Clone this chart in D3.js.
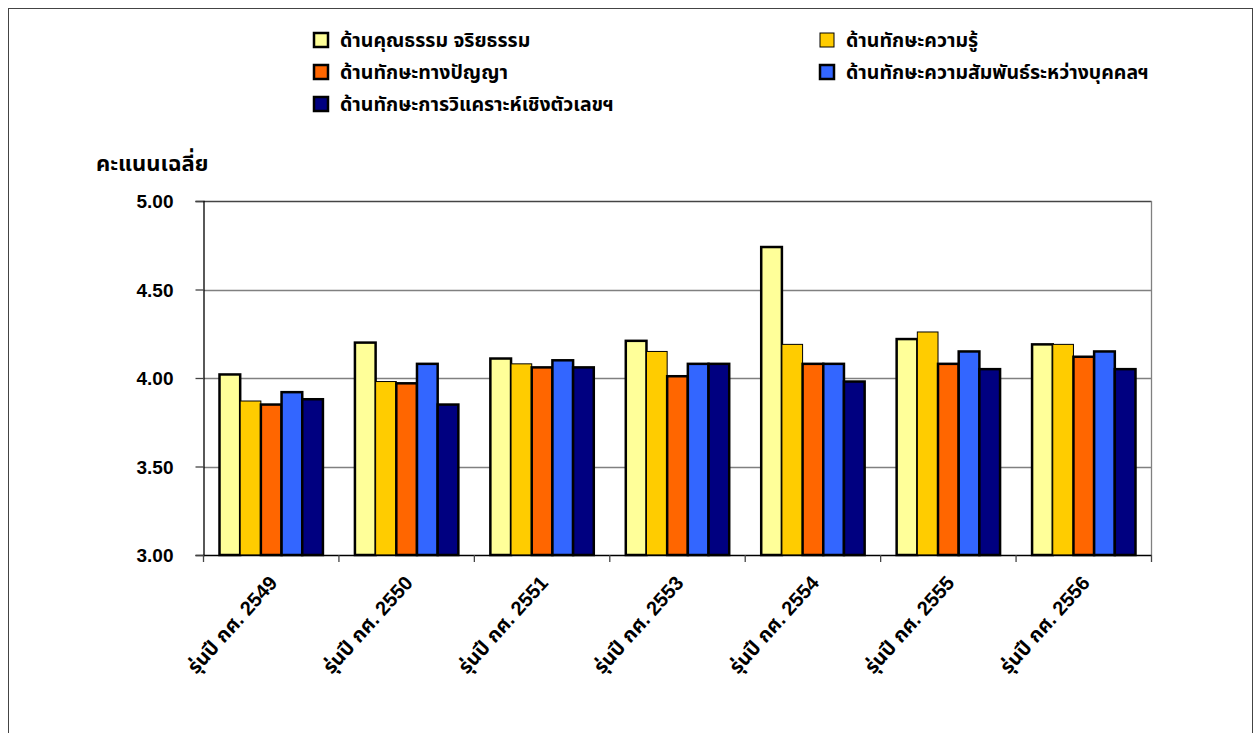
<!DOCTYPE html>
<html>
<head>
<meta charset="utf-8">
<script src="https://cdn.jsdelivr.net/npm/d3@7"></script>
<style>
  body { margin: 0; background: #fff; }
  svg { display: block; }
  text { font-family: "Liberation Sans", Arial, "Noto Sans Thai", Tahoma, sans-serif; font-weight: bold; fill: #000; }
</style>
</head>
<body>
<svg id="chart" width="1254" height="733"></svg>
<script>
const categories = ["รุ่นปี กศ. 2549", "รุ่นปี กศ. 2550", "รุ่นปี กศ. 2551", "รุ่นปี กศ. 2553", "รุ่นปี กศ. 2554", "รุ่นปี กศ. 2555", "รุ่นปี กศ. 2556"];
const seriesNames = ["ด้านคุณธรรม จริยธรรม", "ด้านทักษะความรู้", "ด้านทักษะทางปัญญา", "ด้านทักษะความสัมพันธ์ระหว่างบุคคลฯ", "ด้านทักษะการวิแคราะห์เชิงตัวเลขฯ"];
const moralEthics   = [4.02, 4.20, 4.11, 4.21, 4.74, 4.22, 4.19];
const knowledge     = [3.87, 3.98, 4.08, 4.15, 4.19, 4.26, 4.19];
const cognitive     = [3.85, 3.97, 4.06, 4.01, 4.08, 4.08, 4.12];
const interpersonal = [3.92, 4.08, 4.10, 4.08, 4.08, 4.15, 4.15];
const numerical     = [3.88, 3.85, 4.06, 4.08, 3.98, 4.05, 4.05];
const yTicks = [3.00, 3.50, 4.00, 4.50, 5.00];
const yTitle = "คะแนนเฉลี่ย";

const seriesValues = [moralEthics, knowledge, cognitive, interpersonal, numerical];
const colors = ["#FFFF99", "#FFCC00", "#FF6600", "#3366FF", "#000080"];
const strokeW = [2.5, 1, 2.5, 2.5, 2.5];

const svg = d3.select("#chart");
svg.append("rect").attr("x", 8.5).attr("y", 8.5).attr("width", 1244).attr("height", 740)
  .attr("fill", "none").attr("stroke", "#444").attr("stroke-width", 1);

const pLeft = 203.5, pRight = 1151.5, pTop = 201, pBottom = 555;
const y = d3.scaleLinear().domain([3, 5]).range([pBottom, pTop]);
const x0 = d3.scaleBand().domain(categories).range([pLeft, pRight]).paddingInner(0).paddingOuter(0);
const innerPad = 16;
const x1 = d3.scaleBand().domain(d3.range(seriesNames.length)).range([innerPad, x0.bandwidth() - innerPad]).padding(0);

svg.append("g").selectAll("line").data(yTicks.filter(t => t > 3 && t < 5)).join("line")
  .attr("x1", pLeft).attr("x2", pRight)
  .attr("y1", d => Math.round(y(d)) + 0.5).attr("y2", d => Math.round(y(d)) + 0.5)
  .attr("stroke", "#808080").attr("stroke-width", 1.3);
svg.append("line").attr("x1", pLeft).attr("x2", pRight).attr("y1", pTop + 0.5).attr("y2", pTop + 0.5).attr("stroke", "#444").attr("stroke-width", 1.3);
svg.append("line").attr("x1", pRight).attr("x2", pRight).attr("y1", pTop).attr("y2", pBottom).attr("stroke", "#808080").attr("stroke-width", 1.3);

const groups = svg.append("g").selectAll("g").data(categories).join("g")
  .attr("transform", d => `translate(${x0(d)},0)`);
groups.selectAll("rect").data((d, i) => seriesValues.map((s, k) => ({k, v: s[i]}))).join("rect")
  .attr("x", d => x1(d.k))
  .attr("y", d => y(d.v))
  .attr("width", x1.bandwidth())
  .attr("height", d => y(3) - y(d.v))
  .attr("fill", d => colors[d.k])
  .attr("stroke", "#000")
  .attr("stroke-width", d => strokeW[d.k]);

const yAxis = d3.axisLeft(y).tickValues(yTicks).tickFormat(d3.format(".2f")).tickSize(8).tickPadding(22);
const gy = svg.append("g").attr("transform", `translate(${pLeft},0)`).call(yAxis);
gy.select(".domain").attr("stroke", "#000").attr("stroke-width", 1.3);
gy.selectAll(".tick line").attr("stroke", "#444").attr("stroke-width", 1.3);
gy.selectAll(".tick text").style("font-size", "19px").style("font-family", "'Liberation Sans', Arial, sans-serif").attr("dy", "0.35em");

const gx = svg.append("g").attr("transform", `translate(0,${pBottom})`);
gx.append("line").attr("x1", pLeft).attr("x2", pRight).attr("y1", 0.5).attr("y2", 0.5).attr("stroke", "#000").attr("stroke-width", 1.5);
const boundaries = categories.map(c => x0(c)).concat([pRight]);
gx.selectAll("line.tk").data(boundaries).join("line").attr("class", "tk")
  .attr("x1", d => d).attr("x2", d => d).attr("y1", 0).attr("y2", 7)
  .attr("stroke", "#444").attr("stroke-width", 1.3);
gx.selectAll("text.lbl").data(categories).join("text").attr("class", "lbl")
  .attr("transform", d => `translate(${x0(d) + x0.bandwidth() / 2 + 2},${24}) rotate(-48)`)
  .attr("text-anchor", "end")
  .attr("dy", "0.35em")
  .style("font-size", "20px")
  .text(d => d);

svg.append("text").attr("x", 96).attr("y", 171).style("font-size", "22px").text(yTitle);

const legendPos = [[314, 40], [820, 40], [314, 72], [820, 72], [314, 104]];
const lg = svg.append("g").selectAll("g").data(seriesNames).join("g")
  .attr("transform", (d, i) => `translate(${legendPos[i][0]},${legendPos[i][1]})`);
lg.append("rect").attr("x", 0).attr("y", -7).attr("width", 14).attr("height", 14)
  .attr("fill", (d, i) => colors[i]).attr("stroke", "#000").attr("stroke-width", (d, i) => strokeW[i]);
lg.append("text").attr("x", 26).attr("y", 0).attr("dy", "0.35em").style("font-size", "19.5px").text(d => d);
</script>
</body>
</html>
